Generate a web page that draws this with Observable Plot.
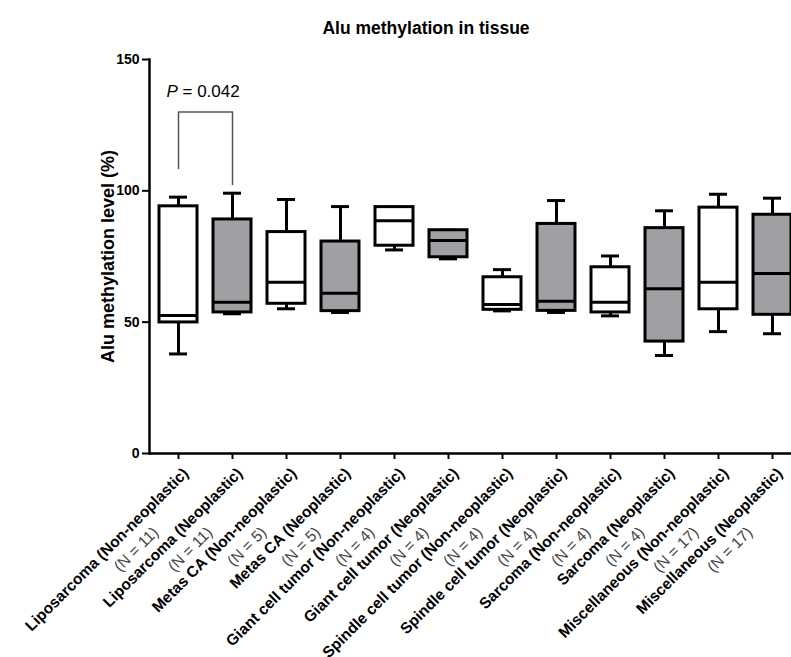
<!DOCTYPE html>
<html>
<head>
<meta charset="utf-8">
<script src="https://cdn.jsdelivr.net/npm/d3@7"></script>
<script src="https://cdn.jsdelivr.net/npm/@observablehq/plot@0.6"></script>
<style>
  body { margin: 0; background: white; font-family: "Liberation Sans", Arial, sans-serif; }
  #title { height: 44px; box-sizing: border-box; padding-top: 18px; padding-left: 61px; text-align: center;
           font-size: 17.5px; font-weight: bold; line-height: 20px; color: #000; width: 791px; }
</style>
</head>
<body>
<div id="title">Alu methylation in tissue</div>
<div id="chart"></div>
<script>
const categories = [
  "Liposarcoma (Non-neoplastic)", "Liposarcoma (Neoplastic)",
  "Metas CA (Non-neoplastic)", "Metas CA (Neoplastic)",
  "Giant cell tumor (Non-neoplastic)", "Giant cell tumor (Neoplastic)",
  "Spindle cell tumor (Non-neoplastic)", "Spindle cell tumor (Neoplastic)",
  "Sarcoma (Non-neoplastic)", "Sarcoma (Neoplastic)",
  "Miscellaneous (Non-neoplastic)", "Miscellaneous (Neoplastic)"
];
const nLabels = ["(N = 11)", "(N = 11)", "(N = 5)", "(N = 5)", "(N = 4)", "(N = 4)",
                 "(N = 4)", "(N = 4)", "(N = 4)", "(N = 4)", "(N = 17)", "(N = 17)"];
const minV = [37.9, 53.2, 55.1, 53.7, 77.5, 74.1, 54.3, 53.7, 52.4, 37.3, 46.4, 45.6];
const q1V  = [49.9, 53.7, 57.0, 54.2, 79.1, 74.7, 54.7, 54.3, 53.7, 42.6, 54.9, 52.8];
const medV = [52.5, 57.6, 65.2, 61.0, 88.6, 81.1, 56.7, 58.0, 57.6, 62.7, 65.2, 68.5];
const q3V  = [94.1, 89.1, 84.3, 80.7, 93.8, 85.0, 67.1, 87.4, 70.9, 85.8, 93.6, 90.9];
const maxV = [97.6, 99.1, 96.7, 94.0, 93.8, 85.0, 70.0, 96.3, 75.2, 92.4, 98.7, 97.2];
const yTicks = [0, 50, 100, 150];
// significance bracket between the first two groups
const bracketX = [categories[0], categories[0], categories[1], categories[1]];
const bracketY = [108.5, 130, 130, 102.4];
const pValueText = "= 0.042";
const pValueY = 137.8;

const rows = categories.map((c, i) => ({
  cat: c, n: nLabels[i],
  type: c.includes("(Neoplastic)") ? "Neoplastic" : "Non-neoplastic",
  min: minV[i], q1: q1V[i], med: medV[i], q3: q3V[i], max: maxV[i]
}));
const bracket = bracketX.map((x, i) => ({x, y: bracketY[i]}));

const chart = Plot.plot({
  width: 791,
  height: 613,
  marginLeft: 149,
  marginRight: 0,
  marginTop: 15,
  marginBottom: 204,
  style: {fontFamily: "'Liberation Sans', Arial, sans-serif", fontSize: "14px", color: "#000", background: "white"},
  x: {domain: categories, range: [150, 799], padding: 0, axis: null},
  y: {domain: [0, 150], axis: null},
  color: {domain: ["Non-neoplastic", "Neoplastic"], range: ["white", "#a0a0a4"]},
  marks: [
    Plot.axisX({tickSize: 6, tickFormat: () => "", strokeWidth: 2}),
    Plot.axisY({ticks: yTicks, tickSize: 7, tickFormat: () => "", strokeWidth: 2, label: null}),
    Plot.text(yTicks, {y: d => d, frameAnchor: "left", dx: -10, textAnchor: "end", lineAnchor: "middle", fontWeight: "bold", fontSize: 14}),
    Plot.frame({anchor: "left", strokeWidth: 2.5}),
    Plot.ruleY([0], {strokeWidth: 2.5}),
    Plot.text(["Alu methylation level (%)"], {frameAnchor: "left", rotate: -90, dx: -41, textAnchor: "middle", lineAnchor: "middle", fontSize: 18, fontWeight: "bold"}),
    // whiskers
    Plot.ruleX(rows, {x: "cat", y1: "q3", y2: "max", strokeWidth: 3}),
    Plot.ruleX(rows, {x: "cat", y1: "min", y2: "q1", strokeWidth: 3}),
    Plot.tickY(rows, {x: "cat", y: "max", strokeWidth: 3, insetLeft: 18, insetRight: 18}),
    Plot.tickY(rows, {x: "cat", y: "min", strokeWidth: 3, insetLeft: 18, insetRight: 18}),
    // boxes
    Plot.barY(rows, {x: "cat", y1: "q1", y2: "q3", fill: "type", stroke: "black", strokeWidth: 3, insetLeft: 8, insetRight: 8}),
    Plot.tickY(rows, {x: "cat", y: "med", strokeWidth: 3, insetLeft: 8, insetRight: 8}),
    // bracket + p value
    Plot.line(bracket, {x: "x", y: "y", stroke: "#555", strokeWidth: 1.5}),
    Plot.text(["P"], {x: () => categories[0], y: () => pValueY, textAnchor: "start", lineAnchor: "middle", dx: -12, fontSize: 17, fontStyle: "italic"}),
    Plot.text([pValueText], {x: () => categories[0], y: () => pValueY, textAnchor: "start", lineAnchor: "middle", dx: 4, fontSize: 17}),
    // x labels
    Plot.text(rows, {x: "cat", text: "cat", frameAnchor: "bottom", rotate: -45, textAnchor: "end", lineAnchor: "top", dx: 3, dy: 13, fontSize: 15.5, fontWeight: "bold"}),
    Plot.text(rows, {x: "cat", text: "n", frameAnchor: "bottom", rotate: -45, textAnchor: "end", lineAnchor: "top", dx: -27, dy: 72, fontSize: 15.5, fill: "#444"})
  ]
});
document.getElementById("chart").appendChild(chart);
</script>
</body>
</html>
